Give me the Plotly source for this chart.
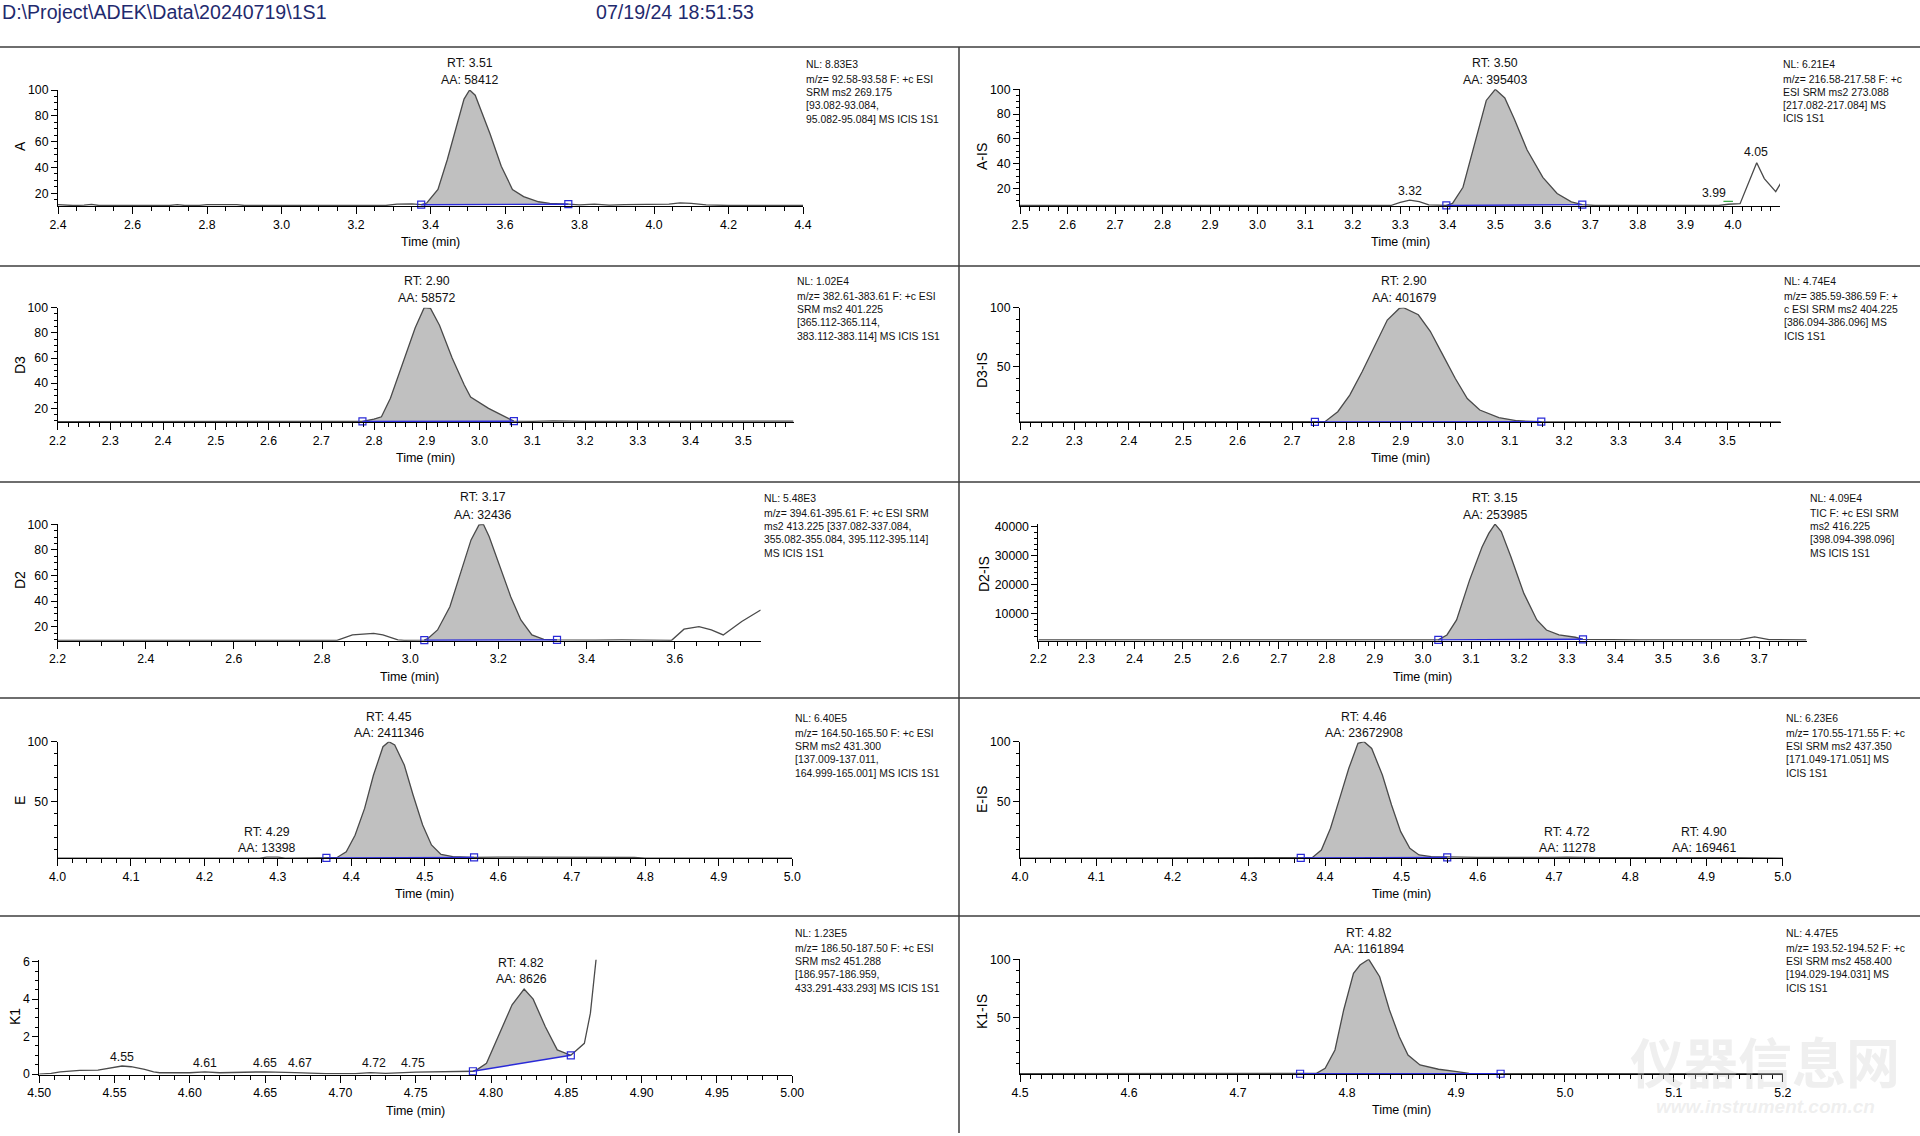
import plotly.graph_objects as go

W, H = 1920, 1136
FONT = "Liberation Sans, Arial, Helvetica, sans-serif"

HEADER_FILE = "D:\\Project\\ADEK\\Data\\20240719\\1S1"
HEADER_TIME = "07/19/24 18:51:53"
X_TITLE = "Time (min)"
WATERMARK = ["仪器信息网", "www.instrument.com.cn"]

# ---------------- A ----------------
A_T = [2.40, 2.42, 2.44, 2.47, 2.49, 2.51, 2.70, 2.72, 2.74, 2.78, 2.80, 2.88, 2.90,
       3.28, 3.31, 3.35, 3.375, 3.39, 3.42, 3.445, 3.47, 3.49, 3.505, 3.52, 3.56, 3.59,
       3.62, 3.65, 3.69, 3.72, 3.77, 3.80, 3.84, 3.88, 3.92, 3.98, 4.04, 4.07, 4.10,
       4.14, 4.20, 4.40]
A_Y = [11.2, 10.9, 10.6, 10.8, 11.4, 10.6, 10.6, 11.3, 10.6, 10.7, 11.2, 11.2, 10.6,
       10.6, 11.7, 11.9, 11.2, 12.5, 23, 46, 72, 93, 100, 96, 66, 41,
       23, 17.5, 13.5, 12.3, 11.6, 11.0, 11.7, 10.8, 11.3, 11.5, 11.6, 12.6, 12.2,
       11.0, 10.6, 10.6]
A_INT = [3.375, 3.77, 11.2, 11.6]
A_PEAKS = ["RT: 3.51", "AA: 58412"]
A_INFO = ["NL: 8.83E3", "m/z= 92.58-93.58 F: +c ESI", "SRM ms2 269.175",
          "[93.082-93.084,", "95.082-95.084] MS ICIS 1S1"]

# ---------------- A-IS ----------------
AIS_T = [2.50, 3.28, 3.30, 3.32, 3.34, 3.36, 3.397, 3.41, 3.432, 3.458, 3.481, 3.50,
         3.52, 3.54, 3.567, 3.60, 3.63, 3.66, 3.683, 3.71, 3.97, 3.99, 4.015, 4.05,
         4.066, 4.09, 4.10]
AIS_Y = [6.3, 6.3, 8.8, 10.6, 9.5, 6.8, 6.4, 8, 21, 59, 91, 100,
         93, 76, 51, 29, 16, 9.2, 7.0, 6.3, 6.3, 7.3, 7.8, 40.7,
         28, 17.5, 24]
AIS_INT = [3.397, 3.683, 6.4, 7.0]
AIS_MARK_T = [3.98, 4.00]
AIS_MARK_Y = [9.6, 9.6]
AIS_PEAKS = ["RT: 3.50", "AA: 395403", "3.32", "3.99", "4.05"]
AIS_INFO = ["NL: 6.21E4", "m/z= 216.58-217.58 F: +c", "ESI SRM ms2 273.088",
            "[217.082-217.084] MS", "ICIS 1S1"]

# ---------------- D3 ----------------
D3_T = [2.20, 2.30, 2.32, 2.34, 2.42, 2.44, 2.57, 2.60, 2.62, 2.64,
        2.778, 2.80, 2.814, 2.831, 2.855, 2.878, 2.895, 2.907, 2.924, 2.948, 2.971,
        2.983, 3.017, 3.035, 3.065,
        3.10, 3.14, 3.20, 3.34, 3.37, 3.40, 3.42, 3.44, 3.46, 3.55, 3.595]
D3_Y = [9.5, 9.5, 10.0, 9.5, 9.5, 10.0, 9.5, 10.0, 9.5, 9.8,
        9.6, 11.5, 13.3, 28, 57, 84, 100, 99.5, 86, 60, 38.5,
        29, 20, 16, 9.8,
        9.6, 10.0, 9.6, 9.6, 10.0, 9.6, 10.0, 9.6, 10.0, 10.0, 9.8]
D3_INT = [2.778, 3.065, 9.6, 9.8]
D3_PEAKS = ["RT: 2.90", "AA: 58572"]
D3_INFO = ["NL: 1.02E4", "m/z= 382.61-383.61 F: +c ESI", "SRM ms2 401.225",
           "[365.112-365.114,", "383.112-383.114] MS ICIS 1S1"]

# ---------------- D3-IS ----------------
D3IS_T = [2.20, 2.742, 2.761, 2.784, 2.806, 2.829, 2.852, 2.875, 2.897, 2.905,
          2.932, 2.954, 2.977, 3.00, 3.022, 3.045, 3.08, 3.114, 3.158, 3.598]
D3IS_Y = [3.3, 3.3, 3.6, 11.9, 26, 46, 68, 89.5, 99.4, 100,
          94, 80, 60, 40, 23, 13.3, 6.8, 4.2, 3.4, 3.3]
D3IS_INT = [2.742, 3.158, 3.3, 3.4]
D3IS_PEAKS = ["RT: 2.90", "AA: 401679"]
D3IS_INFO = ["NL: 4.74E4", "m/z= 385.59-386.59 F: +", "c ESI SRM ms2 404.225",
             "[386.094-386.096] MS", "ICIS 1S1"]

# ---------------- D2 ----------------
D2_T = [2.20, 2.59, 2.61, 2.834, 2.869, 2.89, 2.917, 2.938, 2.972, 2.986,
        3.032, 3.041, 3.062, 3.09, 3.117, 3.138, 3.156, 3.166, 3.179, 3.20, 3.228,
        3.251, 3.276, 3.303, 3.333, 3.42, 3.44, 3.46, 3.48,
        3.593, 3.621, 3.655, 3.683, 3.71, 3.752, 3.795]
D2_Y = [9.3, 9.3, 9.7, 9.3, 13.5, 14.3, 14.8, 13.5, 9.6, 9.3,
        9.4, 10.9, 17.4, 35.6, 64.3, 87.8, 99.5, 100, 90.4, 69.5, 43.4,
        25.2, 13.5, 10.1, 9.6, 9.4, 9.6, 9.4, 9.6,
        9.3, 18, 20, 17.4, 13.5, 24, 33]
D2_INT = [3.032, 3.333, 9.4, 9.6]
D2_PEAKS = ["RT: 3.17", "AA: 32436"]
D2_INFO = ["NL: 5.48E3", "m/z= 394.61-395.61 F: +c ESI SRM", "ms2 413.225 [337.082-337.084,",
           "355.082-355.084, 395.112-395.114]", "MS ICIS 1S1"]

# ---------------- D2-IS ----------------
D2IS_T = [2.20, 3.032, 3.05, 3.07, 3.097, 3.123, 3.137, 3.15, 3.163, 3.183, 3.21,
          3.237, 3.257, 3.283, 3.317, 3.333, 3.45, 3.55, 3.60, 3.66, 3.69, 3.72, 3.798]
D2IS_Y = [800, 800, 2500, 7700, 21500, 33000, 37700, 40900, 38300, 29600, 16900,
          7700, 4200, 2500, 1700, 1000, 800, 800, 800, 900, 1800, 900, 800]
D2IS_INT = [3.032, 3.333, 800, 1000]
D2IS_PEAKS = ["RT: 3.15", "AA: 253985"]
D2IS_INFO = ["NL: 4.09E4", "TIC F: +c ESI SRM", "ms2 416.225", "[398.094-398.096]",
             "MS ICIS 1S1"]

# ---------------- E ----------------
E_T = [4.00, 4.275, 4.285, 4.30, 4.31, 4.366, 4.38, 4.393, 4.405, 4.418, 4.43, 4.443,
       4.451, 4.459, 4.472, 4.484, 4.497, 4.509, 4.522, 4.538, 4.567, 4.60, 4.70, 4.785,
       4.80, 5.00]
E_Y = [3.0, 3.0, 3.8, 3.8, 3.0, 3.1, 3.3, 8.3, 22, 44.4, 72, 95.8,
       100, 97.2, 80.5, 55.6, 30.6, 13.9, 6.1, 4.2, 3.6, 3.8, 3.8, 3.6,
       3.0, 3.0]
E_INT = [4.366, 4.567, 3.1, 3.6]
E_PEAKS = ["RT: 4.45", "AA: 2411346", "RT: 4.29", "AA: 13398"]
E_INFO = ["NL: 6.40E5", "m/z= 164.50-165.50 F: +c ESI", "SRM ms2 431.300",
          "[137.009-137.011,", "164.999-165.001] MS ICIS 1S1"]

# ---------------- E-IS ----------------
EIS_T = [4.00, 4.368, 4.383, 4.395, 4.407, 4.419, 4.431, 4.443, 4.451, 4.461, 4.475,
         4.487, 4.499, 4.511, 4.523, 4.539, 4.56, 4.60, 4.70, 4.717, 4.76, 4.87, 4.896,
         4.93, 5.00]
EIS_Y = [3.0, 3.1, 3.3, 9.7, 27.8, 52.8, 77.8, 98.6, 100, 94.4, 72.2,
         47.2, 25, 11.1, 5.6, 4.2, 3.8, 3.6, 3.6, 3.8, 3.3, 3.3, 3.9,
         3.3, 3.0]
EIS_INT = [4.368, 4.56, 3.1, 3.6]
EIS_PEAKS = ["RT: 4.46", "AA: 23672908", "RT: 4.72", "AA: 11278", "RT: 4.90", "AA: 169461"]
EIS_INFO = ["NL: 6.23E6", "m/z= 170.55-171.55 F: +c", "ESI SRM ms2 437.350",
            "[171.049-171.051] MS", "ICIS 1S1"]

# ---------------- K1 ----------------
K1_T = [4.50, 4.508, 4.514, 4.527, 4.539, 4.547, 4.555, 4.561, 4.57, 4.576,
        4.58, 4.60, 4.61, 4.62, 4.65, 4.67, 4.69, 4.71, 4.72, 4.73, 4.75,
        4.788, 4.791, 4.797, 4.805, 4.814, 4.822, 4.828, 4.836, 4.844, 4.853,
        4.862, 4.866, 4.870]
K1_Y = [0.0, 0.04, 0.12, 0.2, 0.21, 0.3, 0.43, 0.39, 0.25, 0.11,
        0.07, 0.07, 0.12, 0.07, 0.12, 0.08, 0.02, 0.02, 0.08, 0.04, 0.1,
        0.15, 0.25, 0.57, 2.0, 3.7, 4.54, 4.0, 2.54, 1.29, 1.0,
        1.64, 3.25, 6.3]
K1_INT = [4.788, 4.853, 0.15, 1.0]
K1_PEAKS = ["RT: 4.82", "AA: 8626", "4.55", "4.61", "4.65", "4.67", "4.72", "4.75"]
K1_INFO = ["NL: 1.23E5", "m/z= 186.50-187.50 F: +c ESI", "SRM ms2 451.288",
           "[186.957-186.959,", "433.291-433.293] MS ICIS 1S1"]

# ---------------- K1-IS ----------------
K1IS_T = [4.50, 4.757, 4.772, 4.78, 4.789, 4.797, 4.806, 4.812, 4.82, 4.83,
          4.839, 4.848, 4.856, 4.867, 4.884, 4.901, 4.912, 4.929, 4.941, 5.20]
K1IS_Y = [1.3, 1.3, 1.7, 6, 21.8, 56.3, 87.9, 95.1, 100, 85,
          56.3, 33.3, 17.5, 8.9, 5.2, 3.1, 1.7, 1.3, 1.3, 1.3]
K1IS_INT = [4.757, 4.941, 1.3, 1.3]
K1IS_PEAKS = ["RT: 4.82", "AA: 1161894"]
K1IS_INFO = ["NL: 4.47E5", "m/z= 193.52-194.52 F: +c", "ESI SRM ms2 458.400",
             "[194.029-194.031] MS", "ICIS 1S1"]

# ---------------- layout of the ten panels (pixel geometry) ----------------
PANELS = [
    dict(label="A", t=A_T, y=A_Y, integ=A_INT, peaks=A_PEAKS, info=A_INFO,
         peak_pos=[(3.505, 63), (3.505, 80)],
         xpx=(58, 803), ypx=(90, 206), xr=(2.4, 4.4), yr=(10.2, 100),
         xd=0.2, xm=0.05, xf=".1f", yd=20, ym=5, lab=(20, 146), info_y=64.5),
    dict(label="A-IS", t=AIS_T, y=AIS_Y, integ=AIS_INT, peaks=AIS_PEAKS, info=AIS_INFO,
         peak_pos=[(3.50, 63.5), (3.50, 80.5), (3.32, 191), (3.96, 193.5), (4.049, 152)],
         xpx=(1020, 1780), ypx=(89.3, 206), xr=(2.5, 4.099), yr=(5.9, 100),
         xd=0.1, xm=0.02, xf=".1f", yd=20, ym=5, lab=(982, 157), info_y=64),
    dict(label="D3", t=D3_T, y=D3_Y, integ=D3_INT, peaks=D3_PEAKS, info=D3_INFO,
         peak_pos=[(2.90, 281), (2.90, 298)],
         xpx=(57.5, 793.5), ypx=(307.7, 422.3), xr=(2.2, 3.595), yr=(8.9, 100),
         xd=0.1, xm=0.02, xf=".1f", yd=20, ym=5, lab=(20, 365), info_y=281),
    dict(label="D3-IS", t=D3IS_T, y=D3IS_Y, integ=D3IS_INT, peaks=D3IS_PEAKS, info=D3IS_INFO,
         peak_pos=[(2.905, 281), (2.905, 298)],
         xpx=(1020, 1780.7), ypx=(307.7, 422.3), xr=(2.2, 3.598), yr=(2.9, 100),
         xd=0.1, xm=0.02, xf=".1f", yd=50, ym=10, lab=(982, 370), info_y=281),
    dict(label="D2", t=D2_T, y=D2_Y, integ=D2_INT, peaks=D2_PEAKS, info=D2_INFO,
         peak_pos=[(3.166, 497.3), (3.166, 514.5)],
         xpx=(57.5, 760.7), ypx=(524.3, 640.7), xr=(2.2, 3.795), yr=(9.0, 100),
         xd=0.2, xm=0.05, xf=".1f", yd=20, ym=5, lab=(20, 580), info_y=498.3),
    dict(label="D2-IS", t=D2IS_T, y=D2IS_Y, integ=D2IS_INT, peaks=D2IS_PEAKS, info=D2IS_INFO,
         peak_pos=[(3.15, 498), (3.15, 515)],
         xpx=(1038.4, 1806.5), ypx=(524.1, 640.7), xr=(2.2, 3.798), yr=(509, 40900),
         xd=0.1, xm=0.02, xf=".1f", yd=10000, ym=2000, yf="d", lab=(984, 574), info_y=498.3),
    dict(label="E", t=E_T, y=E_Y, integ=E_INT, peaks=E_PEAKS, info=E_INFO,
         peak_pos=[(4.451, 717), (4.451, 733), (4.285, 831.7), (4.285, 847.7)],
         xpx=(57.5, 792.2), ypx=(741.7, 858.3), xr=(4.0, 5.0), yr=(2.8, 100),
         xd=0.1, xm=0.02, xf=".1f", yd=50, ym=10, lab=(20, 801), info_y=718),
    dict(label="E-IS", t=EIS_T, y=EIS_Y, integ=EIS_INT, peaks=EIS_PEAKS, info=EIS_INFO,
         peak_pos=[(4.451, 717), (4.451, 733), (4.717, 831.7), (4.717, 847.7),
                   (4.896, 831.7), (4.896, 847.7)],
         xpx=(1020, 1782.9), ypx=(741.7, 858.3), xr=(4.0, 5.0), yr=(2.8, 100),
         xd=0.1, xm=0.02, xf=".1f", yd=50, ym=10, lab=(982, 800), info_y=718),
    dict(label="K1", t=K1_T, y=K1_Y, integ=K1_INT, peaks=K1_PEAKS, info=K1_INFO,
         peak_pos=[(4.82, 962.7), (4.82, 979.3), (4.555, 1056.7), (4.61, 1062.5),
                   (4.65, 1062.5), (4.673, 1062.5), (4.722, 1062.5), (4.748, 1062.5)],
         xpx=(39.2, 792.2), ypx=(959.8, 1074.6), xr=(4.5, 5.0), yr=(-0.03, 6.1),
         xd=0.05, xm=0.01, xf=".2f", yd=2, ym=0.5, lab=(15, 1017), info_y=933.5),
    dict(label="K1-IS", t=K1IS_T, y=K1IS_Y, integ=K1IS_INT, peaks=K1IS_PEAKS, info=K1IS_INFO,
         peak_pos=[(4.82, 933), (4.82, 948.5)],
         xpx=(1020, 1782.9), ypx=(959.3, 1074), xr=(4.5, 5.2), yr=(1.1, 100),
         xd=0.1, xm=0.01, xf=".1f", yd=50, ym=10, lab=(982, 1012), info_y=933.5),
]

INFO_OFFSETS = [0, 15.3, 28.4, 41.4, 55]

def py(p):
    return 1 - p / H

fig = go.Figure()
annotations = []
shapes = []
layout_axes = {}

TRACE_COLOR = "#4a4a4a"
FILL_COLOR = "#c0c0c0"
BASE_COLOR = "#2a2ad8"

for i, p in enumerate(PANELS, start=1):
    sfx = "" if i == 1 else str(i)
    xref, yref = "x" + sfx, "y" + sfx
    s, e, b0, b1 = p["integ"]
    sel = [(tt, yy) for tt, yy in zip(p["t"], p["y"]) if s - 1e-9 <= tt <= e + 1e-9]
    fx = [q[0] for q in sel] + [e, s]
    fy = [q[1] for q in sel] + [b1, b0]
    fig.add_trace(go.Scatter(x=fx, y=fy, mode="lines", fill="toself", fillcolor=FILL_COLOR,
                             line=dict(width=0, color=FILL_COLOR), hoverinfo="skip",
                             xaxis=xref, yaxis=yref, showlegend=False))
    fig.add_trace(go.Scatter(x=p["t"], y=p["y"], mode="lines",
                             line=dict(color=TRACE_COLOR, width=1.3),
                             xaxis=xref, yaxis=yref, showlegend=False))
    fig.add_trace(go.Scatter(x=[s, e], y=[b0, b1], mode="lines+markers",
                             line=dict(color=BASE_COLOR, width=1.4),
                             marker=dict(symbol="square-open", size=7, color=BASE_COLOR,
                                         line=dict(width=1.2, color=BASE_COLOR)),
                             cliponaxis=False,
                             xaxis=xref, yaxis=yref, showlegend=False))
    if p["label"] == "A-IS":
        fig.add_trace(go.Scatter(x=AIS_MARK_T, y=AIS_MARK_Y, mode="lines",
                                 line=dict(color="#3aa845", width=1.2),
                                 xaxis=xref, yaxis=yref, showlegend=False))

    x0, x1 = p["xpx"]
    ytop, ybot = p["ypx"]
    layout_axes["xaxis" + sfx] = dict(
        domain=[x0 / W, x1 / W], range=list(p["xr"]), anchor=yref, automargin=False,
        showline=True, linecolor="black", linewidth=1, showgrid=False, zeroline=False,
        ticks="outside", ticklen=7, tickwidth=1, tickcolor="black",
        tick0=p["xr"][0], dtick=p["xd"], tickformat=p["xf"],
        tickfont=dict(family=FONT, size=12.3, color="black"),
        minor=dict(ticks="outside", ticklen=4, tickwidth=1, tickcolor="black",
                   dtick=p["xm"], tick0=p["xr"][0], showgrid=False),
        fixedrange=True)
    layout_axes["yaxis" + sfx] = dict(
        domain=[py(ybot), py(ytop)], range=list(p["yr"]), anchor=xref, automargin=False,
        showline=True, linecolor="black", linewidth=1, showgrid=False, zeroline=False,
        ticks="outside", ticklen=6, tickwidth=1, tickcolor="black",
        tick0=0, dtick=p["yd"], tickformat=p.get("yf", ""),
        tickfont=dict(family=FONT, size=12.3, color="black"),
        minor=dict(ticks="outside", ticklen=3, tickwidth=1, tickcolor="black",
                   dtick=p["ym"], tick0=0, showgrid=False),
        fixedrange=True)

    # x title
    annotations.append(dict(text=X_TITLE, xref="paper", yref="paper",
                            x=(x0 + x1) / 2 / W, y=py(ybot + 36), showarrow=False,
                            xanchor="center", yanchor="middle",
                            font=dict(family=FONT, size=12.5, color="black")))
    # y title
    annotations.append(dict(text=p["label"], xref="paper", yref="paper",
                            x=p["lab"][0] / W, y=py(p["lab"][1]), showarrow=False,
                            textangle=-90, xanchor="center", yanchor="middle",
                            font=dict(family=FONT, size=14, color="black")))
    # peak labels
    for txt, (tx, typ) in zip(p["peaks"], p["peak_pos"]):
        annotations.append(dict(text=txt, xref=xref, yref="paper", x=tx, y=py(typ),
                                showarrow=False, xanchor="center", yanchor="middle",
                                font=dict(family=FONT, size=12.3, color="#111111")))
    # info block
    for txt, off in zip(p["info"], INFO_OFFSETS):
        annotations.append(dict(text=txt, xref="paper", yref="paper",
                                x=(x1 + 1) / W, y=py(p["info_y"] + off),
                                showarrow=False, xanchor="left", yanchor="middle",
                                font=dict(family=FONT, size=10.4, color="#111111")))

# header
annotations.append(dict(text=HEADER_FILE, xref="paper", yref="paper", x=0, y=py(12),
                        showarrow=False, xanchor="left", yanchor="middle",
                        font=dict(family=FONT, size=19.6, color="#1f2a6e")))
annotations.append(dict(text=HEADER_TIME, xref="paper", yref="paper", x=594 / W, y=py(12),
                        showarrow=False, xanchor="left", yanchor="middle",
                        font=dict(family=FONT, size=19.6, color="#1f2a6e")))
# watermark
annotations.append(dict(text="<b>" + WATERMARK[0] + "</b>", xref="paper", yref="paper",
                        x=1765 / W, y=py(1060), showarrow=False,
                        xanchor="center", yanchor="middle",
                        font=dict(family="Noto Sans CJK SC", size=54,
                                  color="rgba(205,205,205,0.32)")))
annotations.append(dict(text="<b><i>" + WATERMARK[1] + "</i></b>", xref="paper", yref="paper",
                        x=1765 / W, y=py(1106), showarrow=False,
                        xanchor="center", yanchor="middle",
                        font=dict(family=FONT, size=19, color="rgba(205,205,205,0.32)")))

# separators
for yy in [47, 266, 482, 698, 916]:
    shapes.append(dict(type="line", xref="paper", yref="paper", x0=0, x1=1,
                       y0=py(yy), y1=py(yy), line=dict(color="#6e6e6e", width=2)))
shapes.append(dict(type="line", xref="paper", yref="paper", x0=959 / W, x1=959 / W,
                   y0=py(47), y1=py(1133), line=dict(color="#3c3c3c", width=1.5)))

fig.update_layout(width=W, height=H, autosize=False,
                  margin=dict(l=0, r=0, t=0, b=0, pad=0, autoexpand=False),
                  paper_bgcolor="white", plot_bgcolor="white",
                  showlegend=False, annotations=annotations, shapes=shapes,
                  **layout_axes)

fig.write_html("out.html", config={"displayModeBar": False},
               post_script="document.body.style.margin='0';"
                           "document.body.style.overflow='hidden';")
